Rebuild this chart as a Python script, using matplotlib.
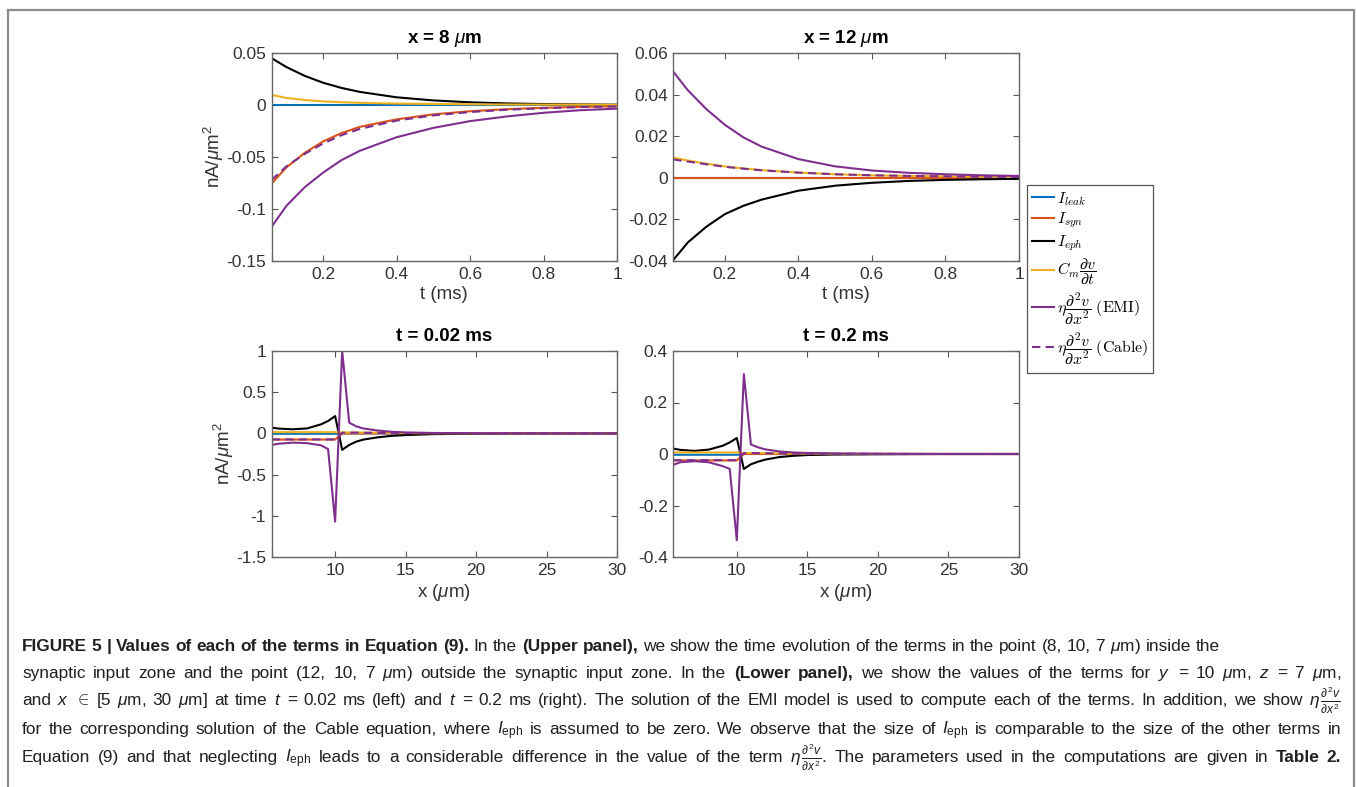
import matplotlib

matplotlib.use("Agg")
import matplotlib.pyplot as plt
from matplotlib.font_manager import FontProperties
from matplotlib.patches import Rectangle
from matplotlib.ticker import FuncFormatter

plt.rcParams["font.family"] = ["Liberation Sans", "DejaVu Sans"]
plt.rcParams["mathtext.fontset"] = "custom"
plt.rcParams["mathtext.rm"] = "Liberation Sans"
plt.rcParams["mathtext.it"] = "Liberation Sans:italic"
plt.rcParams["mathtext.bf"] = "Liberation Sans:bold"
plt.rcParams["axes.unicode_minus"] = False

# --- data ------------------------------------------------------------------
# upper panels: time series (ms)
T_MS = [0.06, 0.1, 0.15, 0.2, 0.25, 0.3, 0.4, 0.5, 0.6, 0.7, 0.8, 0.9, 1.0]

X8_LEAK = [0, 0, 0, 0, 0, 0, 0, 0, 0, 0, 0, 0, 0]
X8_SYN = [-0.0755, -0.060, -0.046, -0.035, -0.027, -0.021, -0.0138, -0.009, -0.006, -0.004, -0.0027, -0.0018, -0.0012]
X8_EPH = [0.045, 0.0365, 0.028, 0.0214, 0.0164, 0.0126, 0.0074, 0.0044, 0.0026, 0.0015, 0.0009, 0.0005, 0.0003]
X8_CM = [0.0097, 0.0068, 0.0048, 0.0035, 0.0027, 0.0021, 0.0014, 0.001, 0.0007, 0.0005, 0.0004, 0.0003, 0.0002]
X8_EMI = [-0.117, -0.097, -0.079, -0.065, -0.053, -0.044, -0.031, -0.022, -0.0155, -0.011, -0.0075, -0.005, -0.0035]
X8_CABLE = [-0.072, -0.059, -0.047, -0.037, -0.029, -0.023, -0.015, -0.010, -0.0068, -0.0046, -0.0031, -0.002, -0.0014]

X12_LEAK = [0, 0, 0, 0, 0, 0, 0, 0, 0, 0, 0, 0, 0]
X12_SYN = [0, 0, 0, 0, 0, 0, 0, 0, 0, 0, 0, 0, 0]
X12_EPH = [-0.0395, -0.031, -0.0235, -0.0175, -0.0135, -0.0105, -0.0062, -0.0038, -0.0024, -0.0015, -0.001, -0.0007, -0.0005]
X12_CM = [0.0097, 0.0083, 0.0068, 0.0055, 0.0045, 0.0037, 0.0025, 0.0017, 0.0012, 0.0009, 0.0007, 0.0005, 0.0004]
X12_EMI = [0.051, 0.042, 0.033, 0.0255, 0.0195, 0.015, 0.009, 0.0055, 0.0035, 0.0024, 0.0017, 0.0012, 0.0009]
X12_CABLE = [0.0088, 0.0078, 0.0065, 0.0053, 0.0044, 0.0036, 0.0025, 0.0017, 0.0012, 0.0009, 0.0007, 0.0005, 0.0004]

# lower panels: profiles along x (um)
X_UM = [5.5, 6, 7, 8, 9, 9.5, 10, 10.5, 11, 11.5, 12, 13, 14, 15, 17, 20, 25, 30]

T002_LEAK = [-0.005, -0.005, -0.005, -0.005, -0.005, -0.005, -0.005, 0, 0, 0, 0, 0, 0, 0, 0, 0, 0, 0]
T002_SYN = [-0.075, -0.075, -0.075, -0.075, -0.075, -0.075, -0.075, 0, 0, 0, 0, 0, 0, 0, 0, 0, 0, 0]
T002_EPH = [0.07, 0.058, 0.05, 0.06, 0.11, 0.15, 0.21, -0.2, -0.14, -0.1, -0.075, -0.048, -0.03, -0.02, -0.009, -0.004, -0.001, 0]
T002_CM = [0.015, 0.015, 0.015, 0.015, 0.015, 0.015, 0.015, 0.012, 0.012, 0.011, 0.01, 0.008, 0.006, 0.004, 0.002, 0.001, 0, 0]
T002_EMI = [-0.14, -0.125, -0.112, -0.118, -0.145, -0.19, -1.07, 1.0, 0.13, 0.085, 0.06, 0.035, 0.02, 0.012, 0.005, 0.002, 0.001, 0]
T002_CABLE = [-0.073, -0.073, -0.073, -0.073, -0.073, -0.073, -0.073, 0.008, 0.01, 0.009, 0.008, 0.007, 0.005, 0.004, 0.002, 0.001, 0, 0]

T02_LEAK = [-0.003, -0.003, -0.003, -0.003, -0.003, -0.003, -0.003, 0, 0, 0, 0, 0, 0, 0, 0, 0, 0, 0]
T02_SYN = [-0.025, -0.025, -0.025, -0.025, -0.025, -0.025, -0.025, 0, 0, 0, 0, 0, 0, 0, 0, 0, 0, 0]
T02_EPH = [0.021, 0.016, 0.012, 0.017, 0.032, 0.045, 0.062, -0.058, -0.04, -0.03, -0.022, -0.012, -0.007, -0.004, -0.002, -0.001, 0, 0]
T02_CM = [0.006, 0.006, 0.006, 0.006, 0.006, 0.006, 0.006, 0.004, 0.004, 0.0035, 0.003, 0.0025, 0.002, 0.0015, 0.001, 0.0005, 0, 0]
T02_EMI = [-0.042, -0.032, -0.028, -0.032, -0.047, -0.058, -0.335, 0.31, 0.037, 0.026, 0.018, 0.01, 0.006, 0.004, 0.002, 0.001, 0, 0]
T02_CABLE = [-0.024, -0.024, -0.024, -0.024, -0.024, -0.024, -0.024, 0.003, 0.004, 0.0035, 0.003, 0.0025, 0.002, 0.0015, 0.001, 0.0005, 0, 0]

LEGEND_LABELS = [
    r"$I_{leak}$",
    r"$I_{syn}$",
    r"$I_{eph}$",
    r"$C_m\dfrac{\partial v}{\partial t}$",
    r"$\eta\dfrac{\partial^2 v}{\partial x^2}\ \mathrm{(EMI)}$",
    r"$\eta\dfrac{\partial^2 v}{\partial x^2}\ \mathrm{(Cable)}$",
]

CAPTION = [
    (r"**FIGURE 5 | Values of each of the terms in Equation (9).** In the **(Upper panel)**, we show the time evolution "
     r"of the terms in the point (8, 10, 7 $\mu$m) inside the", 651, False),
    (r"synaptic input zone and the point (12, 10, 7 $\mu$m) outside the synaptic input zone. In the **(Lower panel)**, "
     r"we show the values of the terms for $y$ = 10 $\mu$m, $z$ = 7 $\mu$m,", 678, True),
    (r"and $x$ $\in$ [5 $\mu$m, 30 $\mu$m] at time $t$ = 0.02 ms (left) and $t$ = 0.2 ms (right). The solution of the EMI "
     r"model is used to compute each of the terms. In addition, we show $\eta\,\frac{\partial^{2}v}{\partial{x}^{2}}$", 705, True),
    (r"for the corresponding solution of the Cable equation, where $I_{\mathrm{eph}}$ is assumed to be zero. We observe "
     r"that the size of $I_{\mathrm{eph}}$ is comparable to the size of the other terms in", 734, True),
    (r"Equation (9) and that neglecting $I_{\mathrm{eph}}$ leads to a considerable difference in the value of the term "
     r"$\eta\,\frac{\partial^{2}v}{\partial{x}^{2}}$. The parameters used in the computations are given in **Table 2**.", 762, True),
]

C_LEAK = "#0072BD"
C_SYN = "#D95319"
C_EPH = "#000000"
C_CM = "#EDB120"
C_EMI = "#7E2F8E"

W, H = 1357, 787

fig = plt.figure(figsize=(W / 100, H / 100), dpi=100)
fig.patch.set_facecolor("white")


def add_panel(left, top, right, bottom):
    return fig.add_axes([left / W, 1 - bottom / H, (right - left) / W, (bottom - top) / H])


def style(ax, xlim, ylim, xticks, yticks):
    ax.set_xlim(*xlim)
    ax.set_ylim(*ylim)
    ax.set_xticks(xticks)
    ax.set_yticks(yticks)
    fmt = FuncFormatter(lambda v, _: f"{v:g}")
    ax.xaxis.set_major_formatter(fmt)
    ax.yaxis.set_major_formatter(fmt)
    ax.tick_params(direction="in", top=True, right=True, length=4, width=0.8,
                   color="#555555", labelsize=12.5, labelcolor="#333333", pad=4)
    for s in ax.spines.values():
        s.set_color("#666666")
        s.set_linewidth(1.0)


def plot_terms(ax, x, leak, syn, eph, cm, emi, cable):
    lw = 1.5
    h = []
    h += ax.plot(x, leak, color=C_LEAK, lw=lw)
    h += ax.plot(x, syn, color=C_SYN, lw=lw)
    h += ax.plot(x, eph, color=C_EPH, lw=lw)
    h += ax.plot(x, cm, color=C_CM, lw=lw)
    h += ax.plot(x, emi, color=C_EMI, lw=lw)
    h += ax.plot(x, cable, color=C_EMI, lw=lw, linestyle=(0, (4, 2.5)))
    return h


ax_tl = add_panel(271.7, 53, 617, 261)
ax_tr = add_panel(673.3, 53, 1019, 261)
ax_bl = add_panel(271.7, 351, 617, 557)
ax_br = add_panel(673.3, 351, 1019, 557)

handles = plot_terms(ax_tl, T_MS, X8_LEAK, X8_SYN, X8_EPH, X8_CM, X8_EMI, X8_CABLE)
plot_terms(ax_tr, T_MS, X12_LEAK, X12_SYN, X12_EPH, X12_CM, X12_EMI, X12_CABLE)
plot_terms(ax_bl, X_UM, T002_LEAK, T002_SYN, T002_EPH, T002_CM, T002_EMI, T002_CABLE)
plot_terms(ax_br, X_UM, T02_LEAK, T02_SYN, T02_EPH, T02_CM, T02_EMI, T02_CABLE)

style(ax_tl, (0.06, 1), (-0.15, 0.05), [0.2, 0.4, 0.6, 0.8, 1], [-0.15, -0.1, -0.05, 0, 0.05])
style(ax_tr, (0.06, 1), (-0.04, 0.06), [0.2, 0.4, 0.6, 0.8, 1], [-0.04, -0.02, 0, 0.02, 0.04, 0.06])
style(ax_bl, (5.5, 30), (-1.5, 1), [10, 15, 20, 25, 30], [-1.5, -1, -0.5, 0, 0.5, 1])
style(ax_br, (5.5, 30), (-0.4, 0.4), [10, 15, 20, 25, 30], [-0.4, -0.2, 0, 0.2, 0.4])

title_kw = dict(fontsize=13.5, fontweight="bold", pad=7)
ax_tl.set_title(r"x = 8 $\mu$m", **title_kw)
ax_tr.set_title(r"x = 12 $\mu$m", **title_kw)
ax_bl.set_title("t = 0.02 ms", **title_kw)
ax_br.set_title("t = 0.2 ms", **title_kw)

label_kw = dict(fontsize=13.5, color="#333333")
for ax in (ax_tl, ax_tr):
    ax.set_xlabel("t (ms)", labelpad=3, **label_kw)
for ax in (ax_bl, ax_br):
    ax.set_xlabel(r"x ($\mu$m)", labelpad=3, **label_kw)
for ax in (ax_tl, ax_bl):
    ax.set_ylabel(r"nA/$\mu$m$^2$", labelpad=0, **label_kw)

# legend sits to the right of the upper panels, in Computer Modern like the original
leg = fig.legend(handles, LEGEND_LABELS, loc="upper left",
                 bbox_to_anchor=(1027 / W, 1 - 185 / H), borderaxespad=0,
                 prop=FontProperties(size=11.5, math_fontfamily="cm"),
                 frameon=True, fancybox=False, framealpha=1, edgecolor="#555555",
                 handlelength=1.4, handletextpad=0.15, labelspacing=0.2, borderpad=0.3)
leg.get_frame().set_linewidth(0.9)

# outer frame of the figure block
fig.add_artist(Rectangle((7.5 / W, -0.02), (1354 - 7.5) / W, 1 - 10 / H + 0.02,
                         transform=fig.transFigure, fill=False, edgecolor="#8c8c8c", lw=1.6))


def draw_caption(lines, left=22, right=1341, size=12.4):
    renderer = fig.canvas.get_renderer()
    for text, base_y, justify in lines:
        words = []
        bold = False
        for raw in text.split(" "):
            is_bold = bold or "**" in raw
            if raw.count("**") % 2:
                bold = not bold
            t = fig.text(0, 0, raw.replace("**", ""), fontsize=size, color="#231f20",
                         fontweight="bold" if is_bold else "normal", va="baseline", ha="left")
            words.append(t)
        widths = [w.get_window_extent(renderer).width for w in words]
        space = size * 0.278 * 100 / 72
        if justify and len(words) > 1:
            gap = (right - left - sum(widths)) / (len(words) - 1)
        else:
            gap = space
        x = left
        for t, w in zip(words, widths):
            t.set_position((x / W, 1 - base_y / H))
            x += w + gap


draw_caption(CAPTION)

fig.savefig("out.png", dpi=100, facecolor="white")
